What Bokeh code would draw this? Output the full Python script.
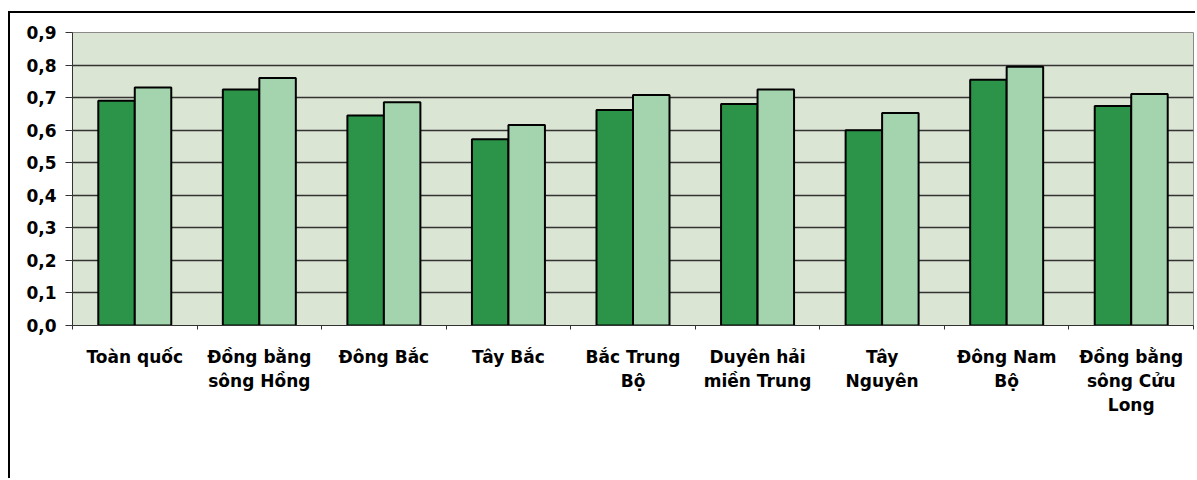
from bokeh.plotting import figure
from bokeh.models import (Range1d, LinearAxis, FixedTicker,
                          CustomJSTickFormatter, ColumnDataSource, Legend, LegendItem)
from bokeh.transform import dodge
from bokeh.embed import file_html
from bokeh.resources import INLINE

categories = ["Toàn quốc", "Đồng bằng sông Hồng", "Đông Bắc", "Tây Bắc", "Bắc Trung Bộ",
              "Duyên hải miền Trung", "Tây Nguyên", "Đông Nam Bộ", "Đồng bằng sông Cửu Long"]
tick_labels = ["Toàn quốc", "Đồng bằng\nsông Hồng", "Đông Bắc", "Tây Bắc", "Bắc Trung\nBộ",
               "Duyên hải\nmiền Trung", "Tây\nNguyên", "Đông Nam\nBộ", "Đồng bằng\nsông Cửu\nLong"]
v1999 = [0.69, 0.725, 0.645, 0.572, 0.662, 0.68, 0.60, 0.755, 0.674]
v2004 = [0.731, 0.76, 0.686, 0.616, 0.708, 0.725, 0.653, 0.795, 0.711]
series_names = ["1999", "2004"]
y_ticks = [0.0, 0.1, 0.2, 0.3, 0.4, 0.5, 0.6, 0.7, 0.8, 0.9]

FONT = "DejaVu Sans"
C1999 = "#2c9448"
C2004 = "#a3d4ad"

n = len(categories)
centers = [i + 0.5 for i in range(n)]
bounds = list(range(n + 1))
src = ColumnDataSource(dict(x=centers, cat=categories, v1999=v1999, v2004=v2004))

p = figure(width=1187, height=467, output_backend="svg", toolbar_location=None,
           x_range=Range1d(0, n), y_range=Range1d(0, 0.9),
           x_axis_location=None, y_axis_location="left",
           min_border_left=62, min_border_right=4, min_border_top=19, min_border_bottom=155)
p.margin = (11, 0, 0, 8)
p.styles = {"border-left": "2px solid black", "border-top": "2px solid black"}

p.background_fill_color = "#dbe5d3"
p.border_fill_color = "white"
p.outline_line_color = "#8a8a8a"
p.outline_line_width = 1

bw = 0.293
p.vbar(x=dodge("x", -bw / 2), top="v1999", width=bw, source=src,
       fill_color=C1999, line_color="black", line_width=2)
p.vbar(x=dodge("x", bw / 2), top="v2004", width=bw, source=src,
       fill_color=C2004, line_color="black", line_width=2)

# grid
p.xgrid.grid_line_color = None
p.ygrid.ticker = FixedTicker(ticks=y_ticks)
p.ygrid.grid_line_color = "#333333"
p.ygrid.grid_line_width = 1.3

# y axis
ya = p.yaxis[0]
ya.ticker = FixedTicker(ticks=y_ticks)
ya.formatter = CustomJSTickFormatter(code="return tick.toFixed(1).replace('.', ',');")
ya.major_label_text_font = FONT
ya.major_label_text_font_style = "bold"
ya.major_label_text_font_size = "17px"
ya.major_label_text_color = "black"
ya.major_tick_out = 7
ya.major_tick_in = 0
ya.minor_tick_line_color = None
ya.axis_line_color = "#333333"
ya.major_tick_line_color = "#333333"
ya.major_label_standoff = 9

# x axis: labels at category centres, small ticks between categories
xa = LinearAxis(ticker=FixedTicker(ticks=centers, minor_ticks=bounds),
                formatter=CustomJSTickFormatter(args=dict(labels=tick_labels),
                                                code="return labels[Math.floor(tick)];"))
xa.major_label_text_font = FONT
xa.major_label_text_font_style = "bold"
xa.major_label_text_font_size = "17px"
xa.major_label_text_color = "black"
xa.major_label_text_line_height = 1.2
xa.major_tick_out = 0
xa.major_tick_in = 0
xa.major_tick_line_color = None
xa.minor_tick_out = 4
xa.minor_tick_in = 0
xa.minor_tick_line_color = "#333333"
xa.axis_line_color = "#333333"
xa.major_label_standoff = 17
p.add_layout(xa, "below")

# legend with dark swatches (as in the reference)
empty = ColumnDataSource(dict(x=[], top=[]))
r1 = p.vbar(x="x", top="top", width=0.3, source=empty, fill_color="#111111", line_color="black")
r2 = p.vbar(x="x", top="top", width=0.3, source=empty, fill_color="#222222", line_color="black",
            hatch_pattern="+", hatch_color="white", hatch_scale=5, hatch_weight=1)
legend = Legend(items=[LegendItem(label=series_names[0], renderers=[r1]),
                       LegendItem(label=series_names[1], renderers=[r2])],
                orientation="horizontal", location=(434, -145),
                label_text_font=FONT, label_text_font_style="bold", label_text_font_size="16px",
                label_text_color="black", glyph_width=13, glyph_height=13,
                label_standoff=5, spacing=8, padding=7, margin=0,
                border_line_color="black", border_line_width=1.5,
                background_fill_color="white", background_fill_alpha=1)
p.add_layout(legend, "center")

open("out.html", "w").write(file_html(p, INLINE))
